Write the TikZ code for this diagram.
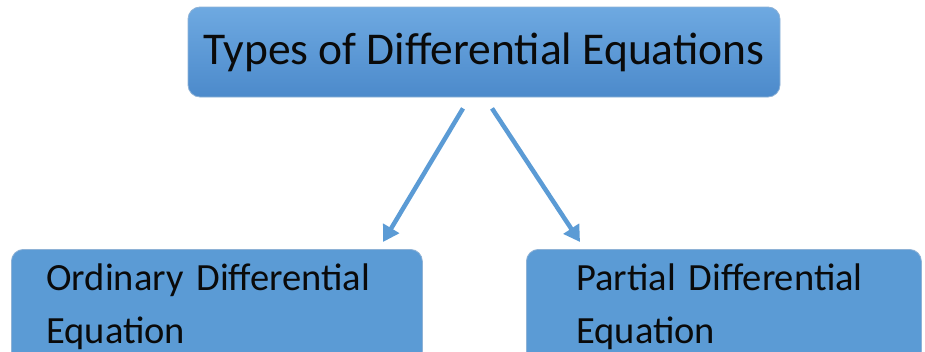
\documentclass[tikz,border=0pt]{standalone}
\usepackage{fontspec}
\setmainfont{Carlito}
\usepackage{tikz}
\usetikzlibrary{arrows.meta}
\definecolor{boxBlue}{HTML}{5B9BD5}
\definecolor{boxTop}{HTML}{6EA9E1}
\definecolor{boxBottom}{HTML}{4C8ACB}
\definecolor{boxEdge}{HTML}{8EB2D6}
\definecolor{arrowBlue}{HTML}{5B9BD5}
\definecolor{textDark}{HTML}{0A0A0A}

\begin{document}
\begin{tikzpicture}[x=1pt,y=-1pt]

		\tikzset{
            typebox/.style={
                rounded corners=12pt,
                draw=boxEdge,
                line width=0.8pt,
                text=textDark
            },
            flow/.style={
                draw=arrowBlue,
                line width=4.5pt,
                -{Triangle[length=16pt,width=18pt]}
            }
        }

        \useasboundingbox (0,0) rectangle (925,351);

        % heading box with a soft vertical gradient
        \node[typebox, top color=boxTop, bottom color=boxBottom,
              minimum width=592pt, minimum height=90pt,
              font=\fontsize{45.5}{52}\selectfont] (types) at (484,52)
              {Types of Differential Equations};

        % the two kinds
        \node[typebox, fill=boxBlue, anchor=north west,
              text width=341pt, align=left, inner xsep=35pt, inner ysep=14pt,
              font=\fontsize{38.5}{53}\selectfont] (ode) at (11,249)
              {Ordinary Differential\\Equation\\[20pt]};
        \node[typebox, fill=boxBlue, anchor=north west,
              text width=295pt, align=left, inner xsep=50pt, inner ysep=14pt,
              font=\fontsize{38.5}{53}\selectfont] (pde) at (526,249)
              {Partial Differential\\Equation\\[20pt]};

        \draw[flow] ([xshift=-21pt,yshift=-11pt]types.south)
            -- ([xshift=372pt,yshift=7pt]ode.north west);
        \draw[flow] ([xshift=8pt,yshift=-11pt]types.south)
            -- ([xshift=54pt,yshift=7pt]pde.north west);

\end{tikzpicture}
\end{document}
